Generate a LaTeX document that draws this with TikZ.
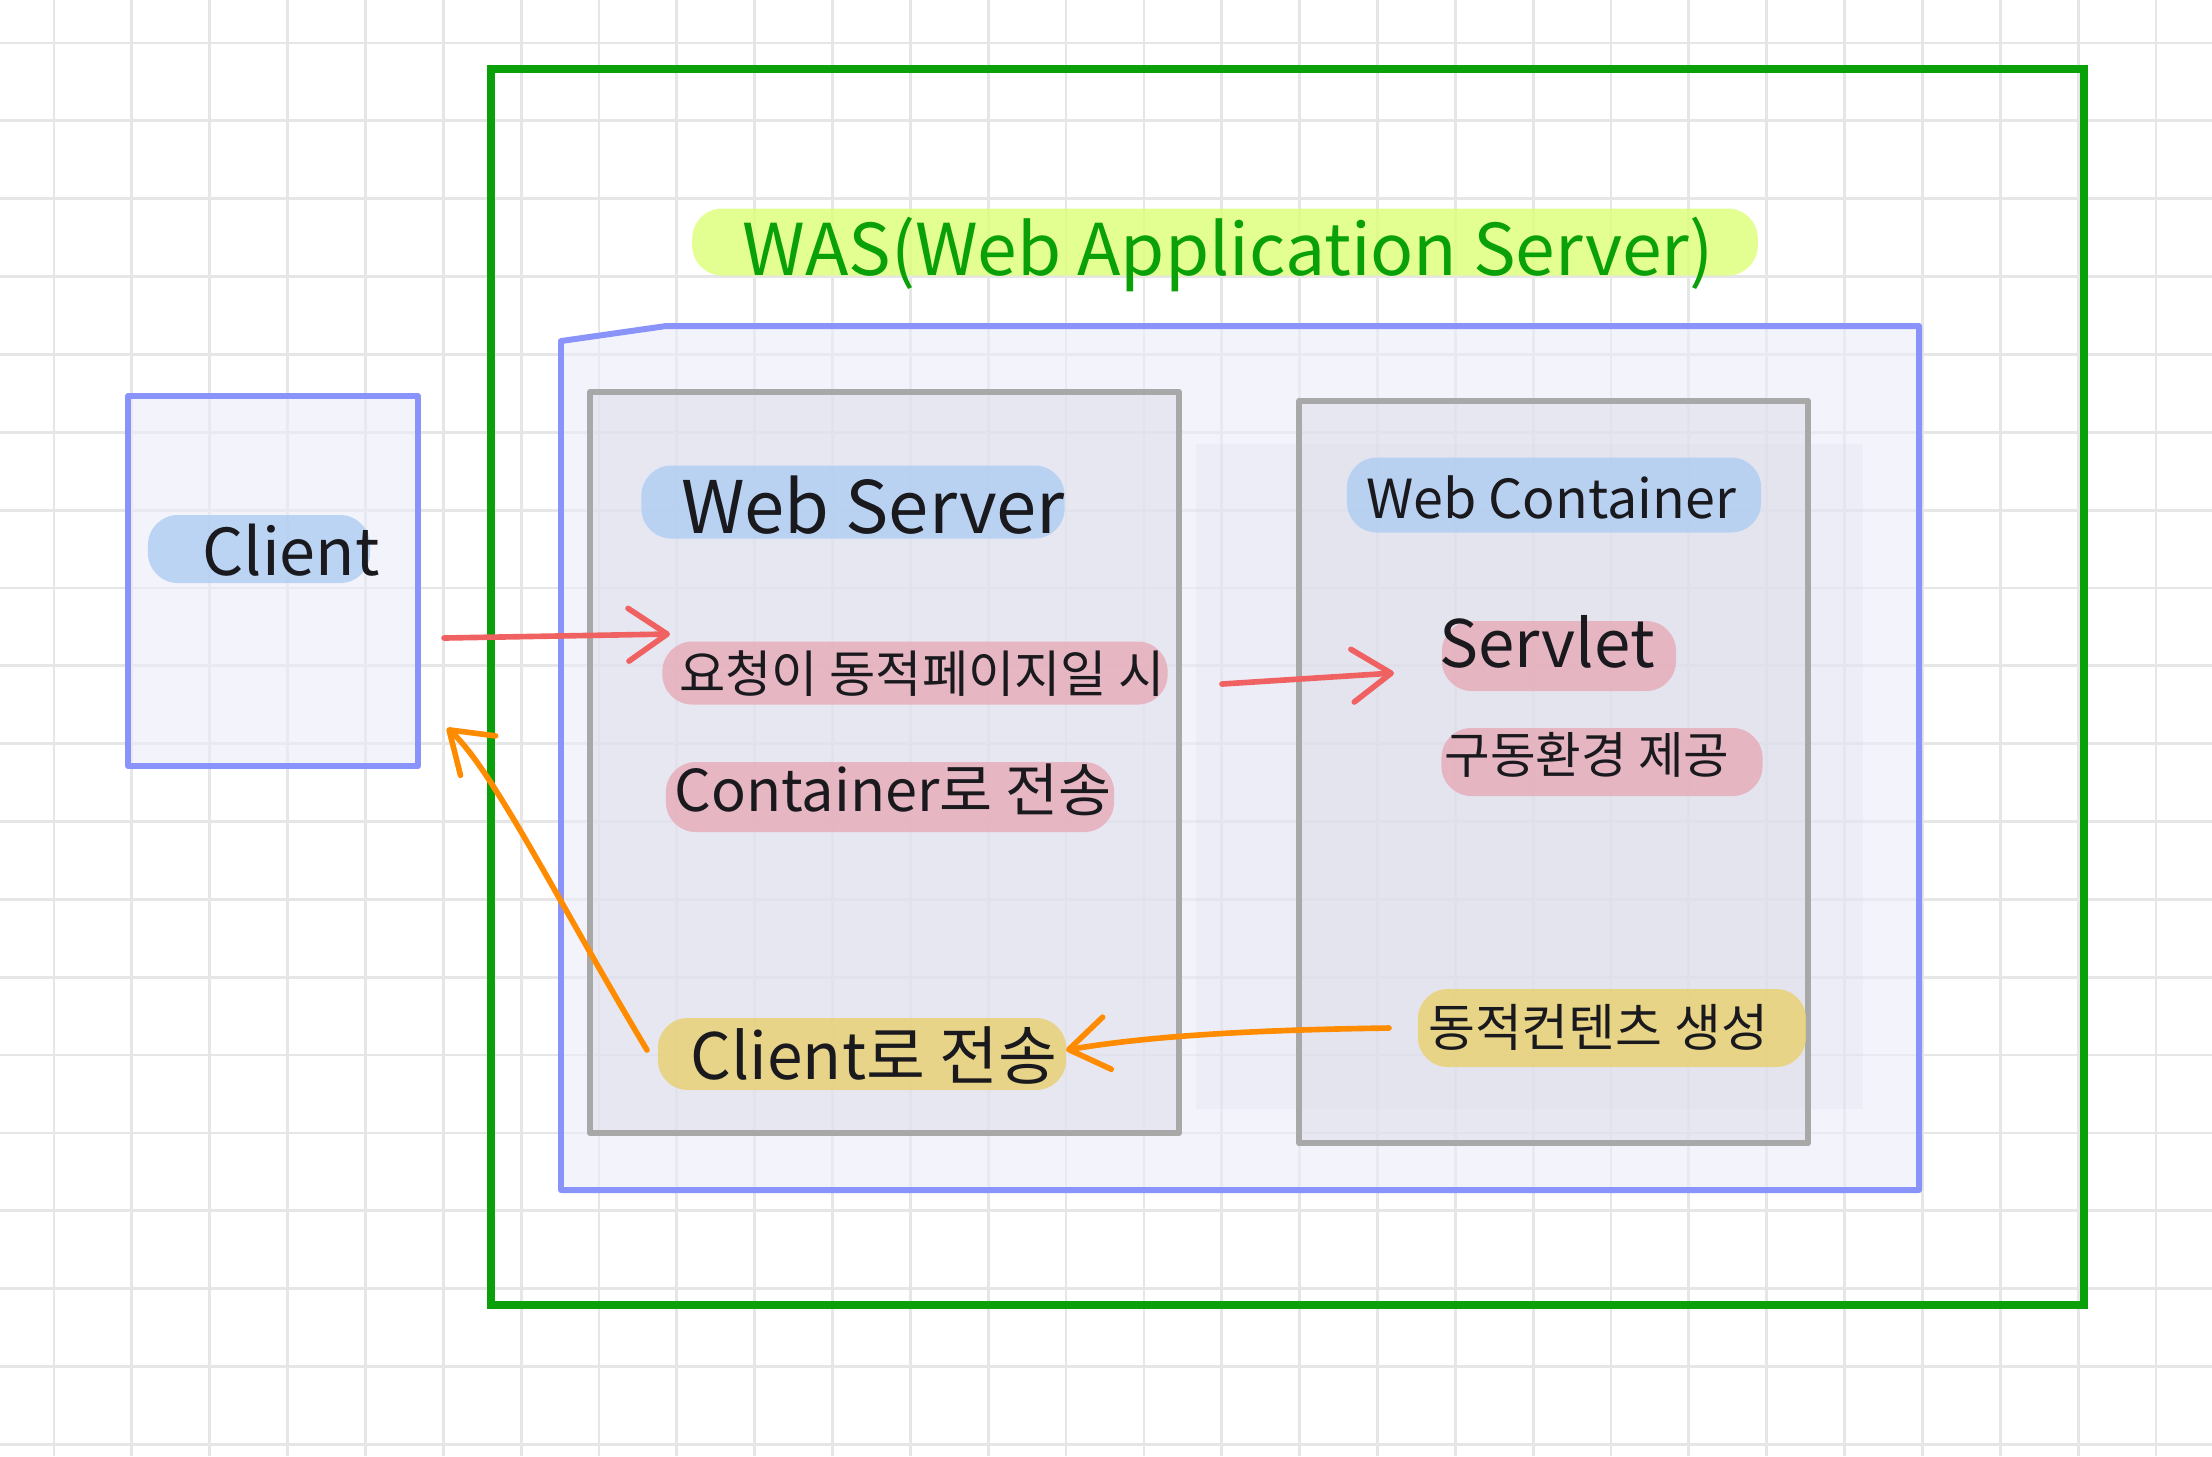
\documentclass[tikz,border=0pt]{standalone}
\usepackage{fontspec}
\newfontfamily\hand{Noto Sans CJK KR}
\usetikzlibrary{arrows.meta}

\definecolor{wasgreen}{RGB}{10,160,10}
\definecolor{wasline}{RGB}{138,147,250}
\definecolor{wasfill}{RGB}{235,235,251}
\definecolor{boxline}{RGB}{168,168,168}
\definecolor{boxfill}{RGB}{221,221,233}
\definecolor{gridgray}{RGB}{230,230,230}
\definecolor{hlblue}{RGB}{175,205,242}
\definecolor{hlpink}{RGB}{230,170,182}
\definecolor{hlyellow}{RGB}{232,208,110}
\definecolor{hllime}{RGB}{221,255,119}
\definecolor{reqred}{RGB}{240,98,98}
\definecolor{resorange}{RGB}{255,140,0}
\definecolor{ink}{RGB}{25,25,30}

\tikzset{
  gridline/.style={gridgray,line width=0.8pt},
  wasbox/.style={draw=wasline,fill=wasfill,fill opacity=0.6,line width=1.7pt,line join=round},
  srvbox/.style={draw=boxline,fill=boxfill,fill opacity=0.5,line width=1.7pt,line join=round},
  hl/.style={fill=#1,fill opacity=0.8,rounded corners=0.3cm,inner sep=0pt},
  lbl/.style={font=\hand\fontsize{#1}{#1}\selectfont,text=ink,inner sep=0pt},
  req/.style={reqred,line width=1.6pt,line cap=round,-{Straight Barb[length=11pt,width=15pt,round]}},
  res/.style={resorange,line width=1.6pt,line cap=round,-{Straight Barb[length=11pt,width=15pt,round]}},
}

\begin{document}
\begin{tikzpicture}[x=0.01cm,y=-0.01cm]
    \useasboundingbox (0,0) rectangle (2212,1456);
    \fill[white] (0,0) rectangle (2212,1456);
    % grid paper
    \foreach \k in {0,...,27}
        \draw[gridline] ({54+77.85*\k},0) -- ({54+77.85*\k},1456);
    \foreach \k in {0,...,18}
        \draw[gridline] (0,{43+77.85*\k}) -- (2212,{43+77.85*\k});

    % frames
    \draw[wasgreen,line width=2.1pt] (491,69) rectangle (2084,1305);
    \draw[wasbox] (561,341) -- (666,326) -- (1919,326) -- (1919,1190) -- (561,1190) -- cycle;
    \draw[wasbox] (128,396) rectangle (418,766);
    \fill[boxfill,fill opacity=0.25] (1196,444) rectangle (1863,1109);
    \draw[srvbox] (590,392) rectangle (1179,1133);
    \draw[srvbox] (1299,401) rectangle (1808,1143);

    % highlighter strokes
    \node[hl=hllime,minimum width=10.65cm,minimum height=0.67cm] (hlwas) at (1225,242) {};
    \node[hl=hlblue,minimum width=2.22cm,minimum height=0.68cm] (hlclient) at (259,549) {};
    \node[hl=hlblue,minimum width=4.23cm,minimum height=0.73cm] (hlws) at (853,502) {};
    \node[hl=hlblue,minimum width=4.14cm,minimum height=0.75cm] (hlwc) at (1554,495) {};
    \node[hl=hlpink,minimum width=5.05cm,minimum height=0.63cm] (hlreq) at (915,673) {};
    \node[hl=hlpink,minimum width=4.48cm,minimum height=0.70cm] (hlfwd) at (890,797) {};
    \node[hl=hlyellow,minimum width=4.08cm,minimum height=0.72cm] (hlback) at (862,1054) {};
    \node[hl=hlpink,minimum width=2.34cm,minimum height=0.70cm] (hlsv) at (1559,656) {};
    \node[hl=hlpink,minimum width=3.21cm,minimum height=0.68cm] (hlenv) at (1602,762) {};
    \node[hl=hlyellow,minimum width=3.88cm,minimum height=0.78cm] (hlgen) at (1612,1028) {};

    % texts
    \node[lbl=20.3pt,text=wasgreen] (was) at (1228,254) {WAS(Web Application Server)};
    \node[lbl=18.4pt] (client) at (291,550) {Client};
    \node[lbl=20.6pt] (webserver) at (873,505) {Web Server};
    \node[lbl=15.3pt] (webcontainer) at (1551,497) {Web Container};
    \node[lbl=14.3pt] (reqtxt) at (922,674) {요청이 동적페이지일 시};
    \node[lbl=16.4pt] (fwdtxt) at (893,790) {Container로 전송};
    \node[lbl=18.2pt] (backtxt) at (874,1055) {Client로 전송};
    \node[lbl=18.6pt] (servlet) at (1547,642) {Servlet};
    \node[lbl=14.1pt] (envtxt) at (1587,755) {구동환경 제공};
    \node[lbl=14.5pt] (gentxt) at (1598,1027) {동적컨텐츠 생성};

    % request / response flow
    \coordinate (req-out) at (444,638);
    \coordinate (req-in) at (670,634);
    \coordinate (fwd-out) at (1222,684);
    \coordinate (fwd-in) at (1394,673);
    \coordinate (gen-out) at (1389,1028);
    \coordinate (back-in) at (1066,1050);
    \coordinate (back-out) at (647,1050);
    \coordinate (client-in) at (447,728);
    \draw[req] (req-out) -- (req-in);
    \draw[req] (fwd-out) -- (fwd-in);
    \draw[res] (gen-out) .. controls (1250,1030) and (1150,1036) .. (back-in);
    \draw[res] (back-out) .. controls (560,905) and (492,768) .. (client-in);
\end{tikzpicture}
\end{document}
